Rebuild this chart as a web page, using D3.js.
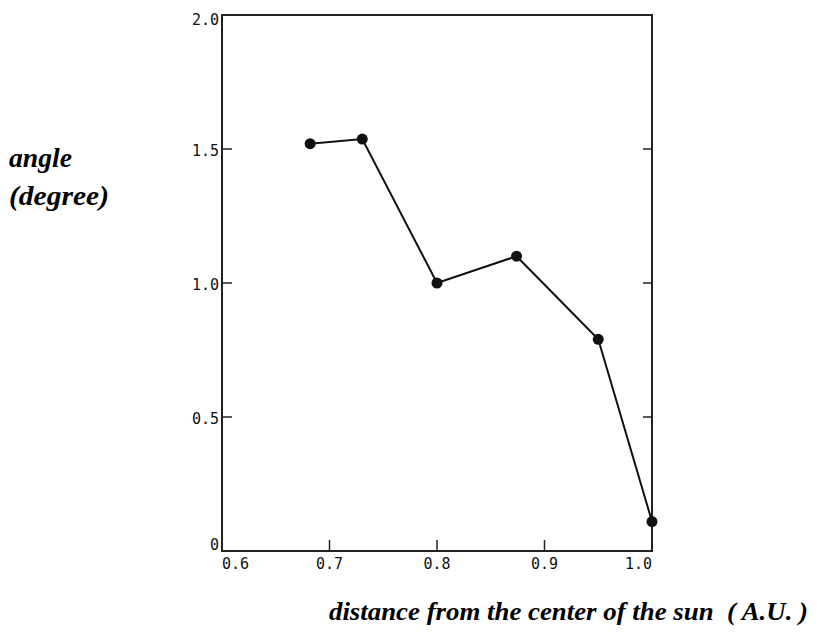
<!DOCTYPE html>
<html>
<head>
<meta charset="utf-8">
<script src="https://cdn.jsdelivr.net/npm/d3@7"></script>
<style>
  body { margin: 0; background: #fff; }
  .tick-label { font-family: "DejaVu Sans Mono", monospace; font-size: 15px; fill: #111; }
  .axis-title { font-family: "Liberation Serif", "Times New Roman", serif; font-weight: bold; font-style: italic; font-size: 28px; fill: #000; white-space: pre; }
  .x-title { font-size: 26px; }
  .frame { fill: none; stroke: #222; stroke-width: 2px; }
  .tick { stroke: #222; stroke-width: 1.5px; }
  .curve { fill: none; stroke: #111; stroke-width: 2px; }
  .dot { fill: #111; }
</style>
</head>
<body>
<svg id="chart" width="821" height="637"></svg>
<script>
  // angle vs. distance
  const distance = [0.682, 0.7305, 0.80, 0.874, 0.95, 1.0];
  const angle = [1.52, 1.537, 1.0, 1.10, 0.79, 0.11];

  const xTicks = [0.6, 0.7, 0.8, 0.9, 1.0];
  const xTickLabels = ["0.6", "0.7", "0.8", "0.9", "1.0"];
  const yTicks = [0, 0.5, 1.0, 1.5, 2.0];
  const yTickLabels = ["0", "0.5", "1.0", "1.5", "2.0"];

  const yTitle = ["angle", "(degree)"];
  const xTitle = "distance from the center of the sun  ( A.U. )";

  const svg = d3.select("#chart");
  const plotL = 222, plotR = 652, plotT = 15, plotB = 551;

  const x = d3.scaleLinear().domain([0.6, 1.0]).range([plotL, plotR]);
  const y = d3.scaleLinear().domain([0, 2.0]).range([plotB, plotT]);

  svg.append("rect").attr("class", "frame")
    .attr("x", plotL).attr("y", plotT)
    .attr("width", plotR - plotL).attr("height", plotB - plotT);

  // inward ticks, left and right sides
  const inner = yTicks.filter(d => d > 0 && d < 2);
  svg.selectAll(".ytick-l").data(inner).join("line").attr("class", "tick")
    .attr("x1", plotL).attr("x2", plotL + 10)
    .attr("y1", d => y(d)).attr("y2", d => y(d));
  svg.selectAll(".ytick-r").data(inner).join("line").attr("class", "tick")
    .attr("x1", plotR).attr("x2", plotR - 9)
    .attr("y1", d => y(d)).attr("y2", d => y(d));
  svg.selectAll(".xtick").data(xTicks.slice(1, -1)).join("line").attr("class", "tick")
    .attr("x1", d => x(d)).attr("x2", d => x(d))
    .attr("y1", plotB).attr("y2", plotB - 11);

  svg.selectAll(".ylab").data(yTicks).join("text").attr("class", "tick-label")
    .attr("x", plotL - 3)
    .attr("y", (d, i) => y(d) + (i === 0 ? -1 : i === yTicks.length - 1 ? 10 : 7))
    .attr("text-anchor", "end")
    .text((d, i) => yTickLabels[i]);

  svg.selectAll(".xlab").data(xTicks).join("text").attr("class", "tick-label")
    .attr("x", d => x(d))
    .attr("y", plotB + 18)
    .attr("text-anchor", (d, i) => i === 0 ? "start" : i === xTicks.length - 1 ? "end" : "middle")
    .text((d, i) => xTickLabels[i]);

  const pts = d3.zip(distance, angle);
  svg.append("path").attr("class", "curve")
    .attr("d", d3.line().x(d => x(d[0])).y(d => y(d[1]))(pts));
  svg.selectAll(".dot").data(pts).join("circle").attr("class", "dot")
    .attr("cx", d => x(d[0])).attr("cy", d => y(d[1])).attr("r", 5.5);

  svg.selectAll(".ytitle").data(yTitle).join("text").attr("class", "axis-title")
    .attr("x", 9).attr("y", (d, i) => 167 + i * 38)
    .attr("textLength", (d, i) => i === 0 ? 63 : 100)
    .attr("lengthAdjust", "spacingAndGlyphs")
    .text(d => d);

  svg.append("text").attr("class", "axis-title x-title")
    .attr("x", 329).attr("y", 620)
    .attr("textLength", 479).attr("lengthAdjust", "spacingAndGlyphs")
    .text(xTitle);
</script>
</body>
</html>
